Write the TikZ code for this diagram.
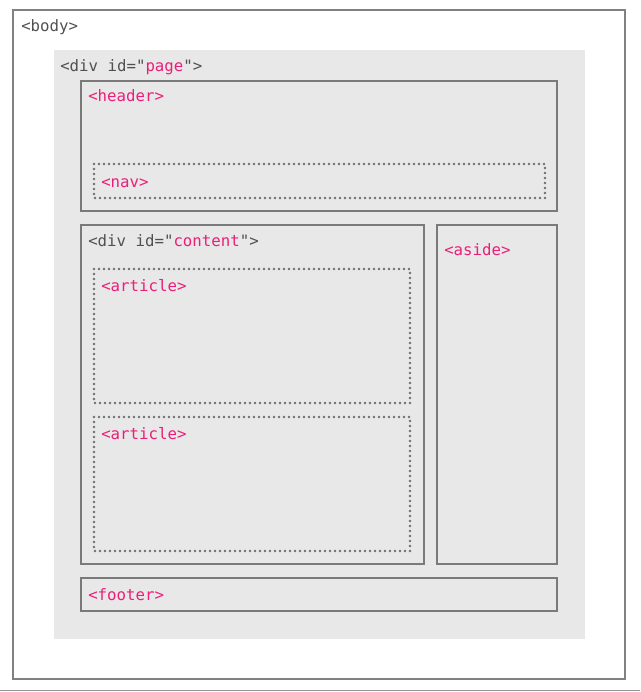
\documentclass[tikz,border=0pt]{standalone}
\usepackage{fontspec}
\setmonofont{DejaVu Sans Mono}
\usepackage{tikz}
\usetikzlibrary{positioning}
\definecolor{tagpink}{RGB}{236,30,121}
\definecolor{tagtext}{RGB}{80,80,80}
\definecolor{boxline}{RGB}{122,122,122}
\definecolor{pagefill}{RGB}{232,232,232}
\tikzset{
  solidbox/.style={draw=boxline, line width=1.7pt},
  dotbox/.style={draw=boxline!90!black, line width=2pt, line cap=round, dash pattern=on 0pt off 3.75pt},
  tag/.style={anchor=base west, inner sep=0pt, font=\ttfamily\fontsize{11.8}{12}\selectfont, text=tagpink},
  plain/.style={tag, text=tagtext}
}
\begin{document}
\begin{tikzpicture}[x=0.75pt,y=-0.75pt]
				\useasboundingbox (0,0) rectangle (640,692);
				\draw[boxline!80, line width=1.2pt] (0,690.5) -- (640,690.5);
				\draw[solidbox, draw=boxline!95] (13,10) rectangle (625,679);
				\fill[pagefill] (54,50) rectangle (585,639);
				% header with nav
				\draw[solidbox] (81,81) rectangle (557,211);
				\draw[dotbox] (94,164) rectangle (545,198);
				% content, aside, footer
				\draw[solidbox] (81,225) rectangle (424,564);
				\draw[solidbox] (437,225) rectangle (557,564);
				\draw[dotbox] (94,269) rectangle (410,403);
				\draw[dotbox] (94,417) rectangle (410,551);
				\draw[solidbox] (81,578) rectangle (557,611);
				% labels
				\node[plain] (body) at (21,32) {<body>};
				\node[plain] (page) at (60,71) {<div id="\textcolor{tagpink}{page}">};
				\node[tag] (header) at (88,102) {<header>};
				\node[tag] (nav) at (101,187) {<nav>};
				\node[plain] (content) at (88,246.5) {<div id="\textcolor{tagpink}{content}">};
				\node[tag] (article1) at (101,291.5) {<article>};
				\node[tag] (article2) at (101,439.5) {<article>};
				\node[tag] (aside) at (444,255) {<aside>};
				\node[tag] (footer) at (88,600) {<footer>};
			\end{tikzpicture}
\end{document}
